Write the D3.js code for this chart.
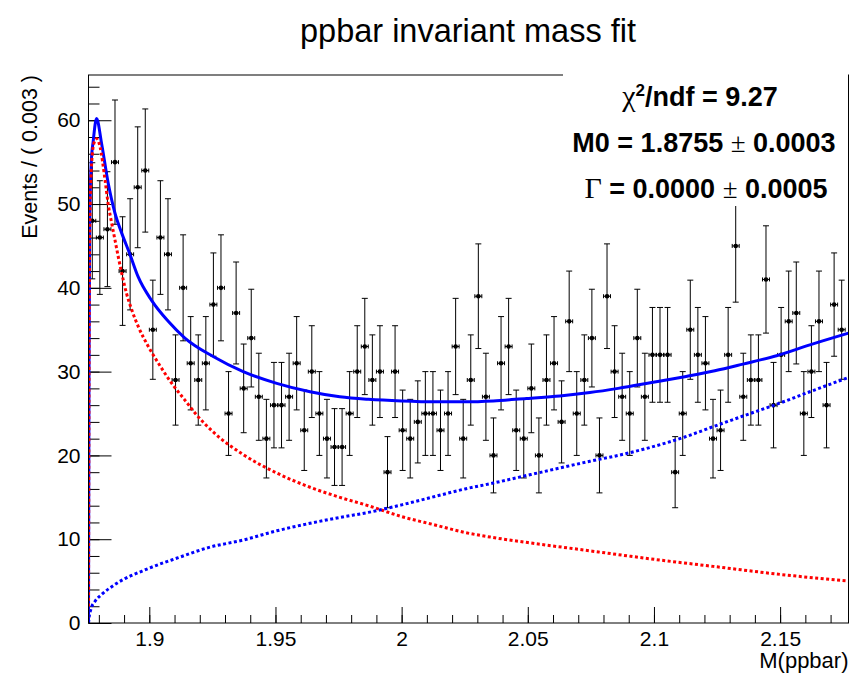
<!DOCTYPE html>
<html>
<head>
<meta charset="utf-8">
<script src="https://cdn.jsdelivr.net/npm/d3@7"></script>
<style>
  body { margin: 0; background: #fff; }
  svg { display: block; }
</style>
</head>
<body>
<div id="container"></div>
<script>
let w = 851;
let h = 674;
let frameLeft = 88.5, frameRight = 848.5, frameTop = 75, frameBottom = 623;

// histogram: 100 bins of 0.003, counts
let binStart = 1.8759;
let binWidth = 0.003;
let counts = [
  48, 46, 47, 55, 42, 44, 52, 54, 35, 46,
  44, 29, 40, 31, 29, 31, 38, 40, 25, 37,
  28, 34, 27, 22, 26, 26, 27, 31, 23, 30,
  25, 22, 21, 21, 25, 30, 33, 29, 30, 18,
  30, 23, 22, 24, 25, 25, 23, 25, 33, 22,
  29, 39, 27, 20, 31, 33, 23, 22, 28, 20,
  29, 31, 24, 36, 25, 29, 34, 20, 39, 30,
  27, 25, 34, 27, 32, 32, 32, 18, 25, 35,
  32, 31, 22, 23, 32, 45, 27, 29, 29, 41,
  26, 32, 36, 37, 25, 30, 36, 26, 38, 35
];

// fit curves, [mass, events]
let totalCurve = [
  [1.8759, 0], [1.8761, 30], [1.8764, 49], [1.8770, 55], [1.8778, 57.6],
  [1.8791, 60.2], [1.8811, 57.2], [1.8837, 52.5], [1.8864, 48.9], [1.8891, 46.5],
  [1.8922, 44.1], [1.8956, 41.3], [1.9009, 38.5], [1.9075, 36.0], [1.9141, 34.0],
  [1.9253, 31.8], [1.9372, 30.0], [1.9505, 28.6], [1.9637, 27.6], [1.9755, 27.0],
  [1.9868, 26.7], [2.0000, 26.5], [2.0132, 26.4], [2.0251, 26.4], [2.0363, 26.5],
  [2.0495, 26.8], [2.0627, 27.1], [2.0746, 27.5], [2.0858, 28.0], [2.0991, 28.7],
  [2.1122, 29.4], [2.1241, 30.1], [2.1353, 30.9], [2.1486, 31.9], [2.1618, 33.2],
  [2.1771, 34.6]
];
let signalCurve = [
  [1.8759, 0], [1.8761, 30], [1.8764, 47], [1.8770, 54], [1.8780, 57.2],
  [1.8791, 57.8], [1.8805, 56.8], [1.8824, 53], [1.8837, 50], [1.8851, 47.7],
  [1.8864, 45.7], [1.8877, 43.7], [1.8891, 41.7], [1.8910, 39.3], [1.8930, 37.4],
  [1.8956, 35.4], [1.8996, 33.0], [1.9036, 31.0], [1.9089, 28.6], [1.9141, 26.6],
  [1.9194, 24.6], [1.9253, 22.8], [1.9372, 20.1], [1.9505, 17.9], [1.9637, 16.2],
  [1.9755, 15.0], [1.9868, 14.0], [2.0000, 12.7], [2.0132, 11.7], [2.0251, 10.8],
  [2.0363, 10.2], [2.0500, 9.6], [2.0750, 8.6], [2.1000, 7.6], [2.1250, 6.7],
  [2.1500, 5.8], [2.1771, 5.0]
];
let bkgCurve = [
  [1.8759, 0], [1.8762, 0.8], [1.8768, 1.6], [1.8785, 2.6], [1.8811, 3.4],
  [1.8864, 4.6], [1.8996, 6.5], [1.9115, 7.8], [1.9234, 9.0], [1.9372, 9.9],
  [1.9505, 11.0], [1.9637, 11.9], [1.9755, 12.6], [1.9868, 13.2], [2.0000, 14.1],
  [2.0132, 15.1], [2.0251, 16.0], [2.0363, 16.7], [2.0495, 17.6], [2.0627, 18.5],
  [2.0746, 19.3], [2.0858, 20.0], [2.0991, 21.0], [2.1122, 22.2], [2.1241, 23.5],
  [2.1353, 24.7], [2.1486, 26.1], [2.1618, 27.6], [2.1771, 29.3]
];

let xTicks = [1.9, 1.95, 2, 2.05, 2.1, 2.15];
let xTickLabels = ["1.9", "1.95", "2", "2.05", "2.1", "2.15"];
let yTicks = [0, 10, 20, 30, 40, 50, 60];
let yTickLabels = ["0", "10", "20", "30", "40", "50", "60"];

let titleText = "ppbar invariant mass fit";
let xTitle = "M(ppbar)";
let yTitle = "Events / ( 0.003 )";

let font = "'Liberation Sans', Arial, Helvetica, sans-serif";
let symFont = "'Liberation Serif', 'Times New Roman', serif";

let viz = d3.select("#container")
  .append("svg")
    .attr("width", w)
    .attr("height", h)
    .style("background-color", "white");

let xScale = d3.scaleLinear().domain([1.8759, 2.1771]).range([frameLeft, frameRight]);
let yScale = d3.scaleLinear().domain([0, 65.4]).range([frameBottom, frameTop]);

viz.append("defs").append("clipPath").attr("id", "frameClip")
  .append("rect")
    .attr("x", frameLeft).attr("y", frameTop)
    .attr("width", frameRight - frameLeft).attr("height", frameBottom - frameTop);

// axes (ROOT style: ticks point inward)
function styleAxis(g){
  g.select(".domain").remove();
  g.selectAll("line").attr("stroke", "#000").attr("stroke-width", 1);
  g.selectAll("text").attr("font-family", font).attr("font-size", 21).attr("fill", "#000");
}

let xMinor = d3.range(1.88, 2.1755, 0.01);
viz.append("g")
  .attr("transform", "translate(0," + frameBottom + ")")
  .call(d3.axisBottom(xScale).tickValues(xMinor).tickSize(-8).tickFormat(""))
  .call(styleAxis);
viz.append("g")
  .attr("transform", "translate(0," + frameBottom + ")")
  .call(d3.axisBottom(xScale).tickValues(xTicks).tickSize(-16).tickPadding(8)
    .tickFormat(function(d, i){ return xTickLabels[i]; }))
  .call(styleAxis);

let yMinor = d3.range(0, 65, 2);
viz.append("g")
  .attr("transform", "translate(" + frameLeft + ",0)")
  .call(d3.axisLeft(yScale).tickValues(yMinor).tickSize(-11).tickFormat(""))
  .call(styleAxis);
viz.append("g")
  .attr("transform", "translate(" + frameLeft + ",0)")
  .call(d3.axisLeft(yScale).tickValues(yTicks).tickSize(-23).tickPadding(8)
    .tickFormat(function(d, i){ return yTickLabels[i]; }))
  .call(styleAxis);

// data points with error bars
let bins = counts.map(function(n, i){
  let lo = binStart + i * binWidth;
  return { lo: lo, hi: lo + binWidth, mid: lo + binWidth / 2, n: n, err: Math.sqrt(n) };
});

let pts = viz.append("g").attr("clip-path", "url(#frameClip)")
  .attr("stroke", "#000").attr("stroke-width", 1);

let groups = pts.selectAll(".pt").data(bins).enter().append("g").attr("class", "pt");
groups.append("line")
  .attr("x1", function(d){ return xScale(d.mid); })
  .attr("x2", function(d){ return xScale(d.mid); })
  .attr("y1", function(d){ return yScale(d.n - d.err); })
  .attr("y2", function(d){ return yScale(d.n + d.err); });
groups.append("line")
  .attr("x1", function(d){ return xScale(d.mid) - 3; })
  .attr("x2", function(d){ return xScale(d.mid) + 3; })
  .attr("y1", function(d){ return yScale(d.n + d.err); })
  .attr("y2", function(d){ return yScale(d.n + d.err); });
groups.append("line")
  .attr("x1", function(d){ return xScale(d.mid) - 3; })
  .attr("x2", function(d){ return xScale(d.mid) + 3; })
  .attr("y1", function(d){ return yScale(d.n - d.err); })
  .attr("y2", function(d){ return yScale(d.n - d.err); });
groups.append("line")
  .attr("x1", function(d){ return xScale(d.lo) + 0.3; })
  .attr("x2", function(d){ return xScale(d.hi) - 0.3; })
  .attr("y1", function(d){ return yScale(d.n); })
  .attr("y2", function(d){ return yScale(d.n); });
groups.append("line")
  .attr("x1", function(d){ return xScale(d.lo) + 0.3; })
  .attr("x2", function(d){ return xScale(d.lo) + 0.3; })
  .attr("y1", function(d){ return yScale(d.n) - 2; })
  .attr("y2", function(d){ return yScale(d.n) + 2; });
groups.append("line")
  .attr("x1", function(d){ return xScale(d.hi) - 0.3; })
  .attr("x2", function(d){ return xScale(d.hi) - 0.3; })
  .attr("y1", function(d){ return yScale(d.n) - 2; })
  .attr("y2", function(d){ return yScale(d.n) + 2; });
groups.append("circle")
  .attr("cx", function(d){ return xScale(d.mid); })
  .attr("cy", function(d){ return yScale(d.n); })
  .attr("r", 2.3)
  .attr("fill", "#000")
  .attr("stroke", "none");

// fit curves
let line = d3.line()
  .x(function(d){ return xScale(d[0]); })
  .y(function(d){ return yScale(d[1]); })
  .curve(d3.curveMonotoneX);

let curves = viz.append("g").attr("clip-path", "url(#frameClip)").attr("fill", "none");
curves.append("path").datum(totalCurve)
  .attr("d", line).attr("stroke", "#0000ff").attr("stroke-width", 3);
curves.append("path").datum(signalCurve)
  .attr("d", line).attr("stroke", "#ff0000").attr("stroke-width", 3)
  .attr("stroke-dasharray", "3,2.5");
curves.append("path").datum(bkgCurve)
  .attr("d", line).attr("stroke", "#0000ff").attr("stroke-width", 3)
  .attr("stroke-dasharray", "3,2.5");

// frame
viz.append("rect")
  .attr("x", frameLeft).attr("y", frameTop)
  .attr("width", frameRight - frameLeft).attr("height", frameBottom - frameTop)
  .attr("fill", "none").attr("stroke", "#000").attr("stroke-width", 1);

// fit result box (covers part of the top frame line)
viz.append("rect")
  .attr("x", 563).attr("y", 64)
  .attr("width", frameRight - 0.5 - 563).attr("height", 142)
  .attr("fill", "white");

let stats = viz.append("g")
  .attr("font-family", font).attr("font-weight", "bold")
  .attr("font-size", 27).attr("text-anchor", "middle").attr("fill", "#000");

let l1 = stats.append("text").attr("x", 700).attr("y", 106);
l1.append("tspan").attr("font-family", symFont).attr("font-weight", "normal").attr("font-size", 30).text("χ");
l1.append("tspan").attr("font-size", 17).attr("dy", -10).text("2");
l1.append("tspan").attr("dy", 10).text("/ndf = 9.27");

let l2 = stats.append("text").attr("x", 704).attr("y", 152);
l2.append("tspan").text("M0 = 1.8755 ");
l2.append("tspan").attr("font-family", symFont).attr("font-weight", "normal").text("±");
l2.append("tspan").text(" 0.0003");

let l3 = stats.append("text").attr("x", 706).attr("y", 198);
l3.append("tspan").attr("font-family", symFont).attr("font-weight", "normal").attr("font-size", 30).text("Γ");
l3.append("tspan").text(" = 0.0000 ");
l3.append("tspan").attr("font-family", symFont).attr("font-weight", "normal").text("±");
l3.append("tspan").text(" 0.0005");

// titles
viz.append("text")
  .attr("x", 468).attr("y", 42)
  .attr("text-anchor", "middle")
  .attr("font-family", font).attr("font-size", 32.5)
  .text(titleText);

viz.append("text")
  .attr("x", frameRight).attr("y", 668)
  .attr("text-anchor", "end")
  .attr("font-family", font).attr("font-size", 22)
  .text(xTitle);

viz.append("text")
  .attr("transform", "translate(37," + frameTop + ") rotate(-90)")
  .attr("text-anchor", "end")
  .attr("font-family", font).attr("font-size", 21.5)
  .text(yTitle);
</script>
</body>
</html>
